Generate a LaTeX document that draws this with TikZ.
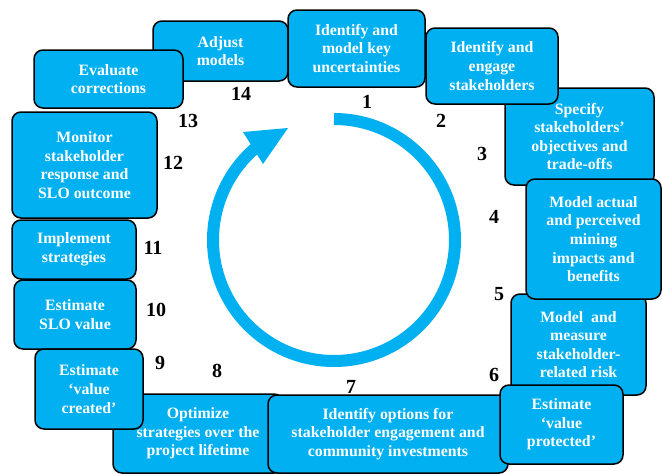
\documentclass[tikz,border=0pt]{standalone}
\usepackage{fontspec}
\setmainfont{Liberation Serif}
\definecolor{cyanbox}{RGB}{0,176,240}
\begin{document}
\begin{tikzpicture}[x=1pt,y=-1pt,
  stepbox/.style={draw=black, line width=1.5pt, fill=cyanbox, rounded corners=9pt,
    text=white, font=\fontsize{15.8pt}{18.6pt}\selectfont\bfseries, align=center, inner sep=0pt},
  numlabel/.style={font=\fontsize{20pt}{24pt}\selectfont\bfseries, text=black, inner sep=0pt}]
\useasboundingbox (0,0) rectangle (662,474);

% cycle arrow (y axis points down, so angles are mirrored)
\coordinate (ctr) at (334,240);
\draw[cyanbox, line width=12pt] (ctr) ++(-90:121) arc[start angle=-90, end angle=231, radius=121];
\fill[cyanbox] (288,128) -- (243,132) -- (263,164) -- cycle;

% boxes (drawing order matters for overlaps)
\node[stepbox, minimum width=135pt, minimum height=60pt] (b14) at (220.5,51) {Adjust\\models};
\node[stepbox, minimum width=149pt, minimum height=58pt] (b13) at (108.5,79) {Evaluate\\corrections};
\node[stepbox, minimum width=137pt, minimum height=77pt] (b1) at (356.5,48.5) {Identify and\\model key\\uncertainties};
\node[stepbox, minimum width=145pt, minimum height=106pt] (b12) at (84.5,165) {Monitor\\stakeholder\\response and\\SLO outcome};
\node[stepbox, minimum width=124pt, minimum height=59pt] (b11) at (74,249.5) {Implement\\strategies};
\node[stepbox, minimum width=122pt, minimum height=69pt] (b10) at (75,314.5) {Estimate\\SLO value};
\node[stepbox, minimum width=170pt, minimum height=79pt] (b8) at (198,433.5) {Optimize\\strategies over the\\project lifetime};
\node[stepbox, minimum width=108pt, minimum height=80pt] (b9) at (89,389) {Estimate\\‘value\\created’};
\node[stepbox, minimum width=240pt, minimum height=78pt] (b7) at (388,434) {Identify options for\\stakeholder engagement and\\community investments};
\node[stepbox, minimum width=135pt, minimum height=101pt] (b5) at (578.5,344.5) {Model\ \ and\\measure\\stakeholder-\\related risk};
\node[stepbox, minimum width=123pt, minimum height=79pt] (b6) at (561.5,424.5) {Estimate\\‘value\\protected’};
\node[stepbox, minimum width=149pt, minimum height=97pt] (b3) at (579.5,136.5) {Specify\\stakeholders’\\objectives and\\trade-offs};
\node[stepbox, minimum width=132pt, minimum height=76pt] (b2) at (492,66) {Identify and\\engage\\stakeholders};
\node[stepbox, minimum width=135pt, minimum height=120pt] (b4) at (593.5,239) {Model actual\\and perceived\\mining\\impacts and\\benefits};

% step numbers
\node[numlabel] (n1) at (367,102) {1};
\node[numlabel] (n2) at (441,121) {2};
\node[numlabel] (n3) at (482,154) {3};
\node[numlabel] (n4) at (494,217) {4};
\node[numlabel] (n5) at (499,294) {5};
\node[numlabel] (n6) at (494,375) {6};
\node[numlabel] (n7) at (351,387) {7};
\node[numlabel] (n8) at (217,371) {8};
\node[numlabel] (n9) at (160,363) {9};
\node[numlabel] (n10) at (156,310) {10};
\node[numlabel] (n11) at (153,248) {11};
\node[numlabel] (n12) at (173,163) {12};
\node[numlabel] (n13) at (188,121) {13};
\node[numlabel] (n14) at (241,94) {14};
\end{tikzpicture}
\end{document}
